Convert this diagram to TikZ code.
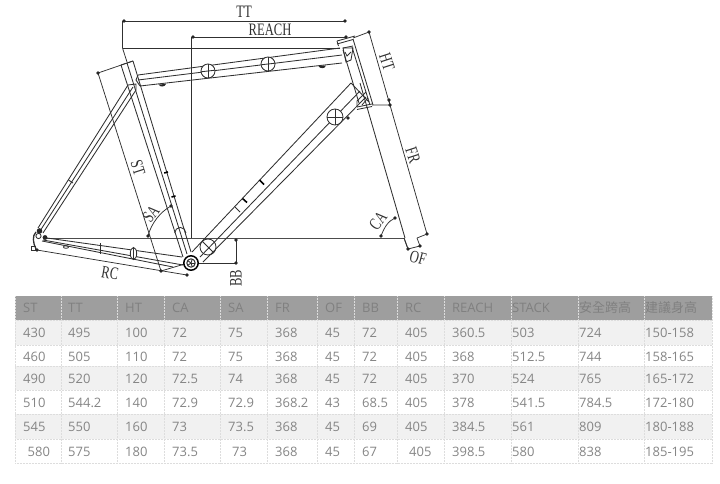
\documentclass[tikz,border=0pt]{standalone}
\usepackage{fontspec}
\setmainfont{Liberation Serif}
\newfontfamily\tablefont{Open Sans}
\newfontfamily\cjkfont{Noto Sans CJK TC}
\newfontfamily\dimfont[FakeStretch=0.72]{Liberation Serif}
\definecolor{ink}{HTML}{303030}
\definecolor{thead}{HTML}{9E9E9E}
\definecolor{theadtext}{HTML}{808080}
\definecolor{tcell}{HTML}{858585}
\definecolor{tband}{HTML}{F1F1F1}
\definecolor{tgrid}{HTML}{DDDDDD}
\tikzset{
  tube/.style={draw=ink,line width=.85pt},
  dimline/.style={draw=ink,line width=.75pt},
  dot/.style={circle,fill=black!85,inner sep=0pt,minimum size=3.8pt},
  lab/.style={font=\dimfont\fontsize{17.5}{17.5}\selectfont,text=ink,inner sep=0pt},
  hd/.style={anchor=base west,inner sep=0pt,font=\tablefont\fontsize{13}{13}\selectfont,text=theadtext},
  cl/.style={anchor=base west,inner sep=0pt,font=\tablefont\fontsize{13}{13}\selectfont,text=tcell},
  grid/.style={draw=tgrid,line width=.5pt,densely dotted},
  tick/.style={draw=black,line width=1.6pt}
}
\begin{document}
\begin{tikzpicture}[x=1pt,y=-1pt]
\useasboundingbox (0,0) rectangle (720,483);
% ---- dimension points
\coordinate (ttl) at (124,21);
\coordinate (ttr) at (345,21);
\coordinate (rl) at (193,37);
\coordinate (rr) at (346,37);
\coordinate (stt) at (98,73);
\coordinate (stb) at (161,271);
\coordinate (rcb) at (187,275);
\coordinate (rca) at (37,250);
\coordinate (htt) at (369,32);
\coordinate (htb) at (389,100);
\coordinate (frt) at (390,105);
\coordinate (frb) at (427,234);
\coordinate (ofa) at (408,249);
\coordinate (ofb) at (420,246);
\coordinate (bbt) at (236,240);
\coordinate (bbb) at (236,263);
\coordinate (saa) at (148,236);
\coordinate (sab) at (171,206);
\coordinate (caa) at (381,236);
\coordinate (cab) at (395,218);
\coordinate (bb) at (191,263);
% ---- dimension lines
\draw[dimline] (ttl) -- (ttr);
\draw[dimline] (ttl) ++(-1.5,0) -- ++(0,27) -- (127,62);
\draw[dimline] (122.5,48) -- (340,48);
\draw[dimline] (rl) -- (rr);
\draw[dimline] (rl) ++(-2,0) -- (191,238);
\draw[dimline,line width=.9pt,draw=black!70] (43,238) -- (404,238);
\draw[dimline] (stt) -- (133,61);
\draw[dimline] (stt) -- (stb);
\draw[dimline] (rca) -- (rcb);
\draw[dimline] (stb) -- (188,263);
\draw[dimline] (353,38) -- (htt);
\draw[dimline] (htt) -- (frb);
\draw[dimline] (372,105) -- (frt) -- (htb);
\draw[dimline] (frb) -- (417,238);
\draw[dimline] (ofa) -- (404,238);
\draw[dimline] (ofb) -- (417,238);
\draw[dimline] (ofa) -- (ofb);
\draw[dimline] (bbt) -- (bbb) -- (198,263);
\draw[dimline] (saa) .. controls (151,224) and (160,212) .. (sab);
\draw[dimline] (caa) .. controls (384,228) and (388,221) .. (cab);
\foreach \p in {ttl,ttr,rl,rr,stt,stb,rcb,rca,htt,htb,frt,frb,ofa,ofb,bbt,bbb,saa,sab,caa,cab}
  \node[dot] at (\p) {};
\node[dot] at (348,118) {};
% ---- seat tube
\draw[tube] (121,65) -- (133,61);
\draw[tube] (121,65) -- (183,257);
\draw[tube] (127,63) -- (187,254);
\draw[tube] (133,61) -- (191,252);
\draw[tick] (164.2,173) -- (168,172);
\draw[tick] (171.5,197) -- (175.5,196);
\draw[tube] (174.7,233) arc[start angle=180,end angle=360,radius=5.6];
% ---- seat stay
\draw[tube] (128,85) -- (38,228);
\draw[tube] (133,87) -- (40,231);
\draw[tube] (136,90) -- (43,233);
\draw[tube] (128,85) -- (136,84) -- (136,90);
\draw[tube] (68.5,180) -- (73,183);
% ---- top tube
\draw[tube] (138,75) -- (340,48);
\draw[tube] (138,80) -- (342,55);
\draw[tube] (140,86) -- (342,63);
\draw[tube] (138,75) -- (136,80) -- (140,86);
\foreach \c in {(208,71),(268,64)}{
  \draw[tube,fill=white] \c circle[radius=7];
  \draw[tube] \c ++(-7,.8) -- ++(14,-1.6);
  \draw[tube] \c ++(0,-7) -- ++(0,14);
}
\fill[black!85] (158.5,84.5) .. controls (160,87.5) and (165,87) .. (166,84) -- cycle;
\fill[black!85] (318.5,66) .. controls (320,69) and (325,69) .. (326,65.5) -- cycle;
% ---- head tube and fork
\draw[tube] (337,41) -- (355,36);
\draw[tube] (337,44) -- (353,39.5);
\draw[tube] (337,41) -- (338.5,46);
\draw[tube] (343,50) -- (359,103);
\draw[tube] (352,47) -- (370,105);
\draw[tube] (353,39) -- (373,105);
\draw[tube] (343,48) -- (353,48) -- (351,60) -- (346,62) -- cycle;
\draw[tube] (345,52) -- (347,56) -- (351,52);
\draw[tube] (343,48) -- (353,46);
\draw[tube] (360,83) -- (405,238);
\draw[tube] (404,238) -- (408,249);
\draw[tube] (357,107) -- (372,104);
\draw[tube] (357,109.5) -- (372,106.5);
% ---- down tube
\draw[tube] (351,83) -- (192,252);
\draw[tube] (360,91) -- (200,257);
\draw[tube] (366,97) -- (203,262);
\draw[tube] (351,83) -- (369,102);
\draw[tube] (357,107) -- (357,101) -- (366,92);
\draw[tube] (362,105) -- (368,98);
\draw[tube,fill=white] (335,117) circle[radius=8];
\draw[tube] (327,117) -- (343,117);
\draw[tube] (335,109) -- (335,125);
\draw[tube] (208,247) circle[radius=8];
\draw[tube] (202.3,241.3) -- (213.7,252.7);
% ---- ticks on the down tube
\draw[tick] (242.5,198.5) -- (247,202.5);
\draw[tick] (259.5,180) -- (264,184.5);
\draw[tube] (235,207) -- (240,212);
% ---- chain stay
\draw[tube] (47,238) -- (182,257);
\draw[tube] (43,240) -- (183,265);
\draw[tube] (42,241) -- (173,267);
\draw[tube] (100,243) -- (100,254);
\draw[tube,fill=white] (133.5,253.5) ellipse[x radius=3.2,y radius=6];
\draw[tube] (133.5,247.5) -- (133.5,259.5);
\draw[tube] (66,247) ellipse[x radius=2.6,y radius=1.3];
% ---- rear dropout
\fill[black!85] (39.5,231) circle[radius=2.8];
\fill[black!85] (45,237.5) circle[radius=2.4];
\draw[tube,line width=1.3pt] (36,232) .. controls (32,236) and (33,243) .. (36,249);
\draw[tube] (31,246) rectangle (35,250);
\draw[tube] (38.5,236) circle[radius=2.6];
% ---- bottom bracket
\draw[draw=black,line width=1.5pt,fill=white] (bb) circle[radius=7.2];
\draw[tube,line width=1pt] (bb) circle[radius=4.2];
\foreach \a in {0,72,...,288} \draw[tube] (bb) -- ++(\a:4.2);
% ---- labels
\node[lab] (ltt) at (244,11.5) {TT};
\node[lab] (lreach) at (270,30) {REACH};
\node[lab,rotate=-72] (lht) at (387,62) {HT};
\node[lab,rotate=-72] (lfr) at (413,155) {FR};
\node[lab,rotate=-72] (lst) at (138,168) {ST};
\node[lab,rotate=52] (lsa) at (151,214) {SA};
\node[lab,rotate=52] (lca) at (378,221) {CA};
\node[lab,rotate=-10] (lrc) at (110,273) {RC};
\node[lab,rotate=90] (lbb) at (236,278) {BB};
\node[lab,rotate=-15] (lof) at (418,258) {OF};
% ---- table
\fill[thead] (15,296) rectangle (712,320);
\fill[tband] (15,320) rectangle (712,345);
\fill[tband] (15,366) rectangle (712,390);
\fill[tband] (15,414) rectangle (712,439);
\foreach \y in {320,345,366,390,414,439,463} \draw[grid] (15,\y) -- (712,\y);
\foreach \x in {15,61,117,164,220,267,317,354,397,444,511,578,644,712} \draw[grid] (\x,296) -- (\x,463);
\foreach \tx/\t [count=\i] in {23/ST,68/TT,125/HT,172/CA,228/SA,275/FR,325/OF,362/BB,405/RC,452/REACH,512/STACK}
  \node[hd] (h\i) at (\tx,312) {\t};
\node[hd,font=\cjkfont\fontsize{13}{13}\selectfont] (h12) at (579,312) {安全跨高};
\node[hd,font=\cjkfont\fontsize{13}{13}\selectfont] (h13) at (645,312) {建議身高};
\foreach \tx/\t [count=\i] in {23/430,68/495,125/100,172/72,228/75,275/368,325/45,362/72,405/405,452/360.5,512/503,579/724,645/150-158}
  \node[cl] (a\i) at (\tx,337) {\t};
\foreach \tx/\t [count=\i] in {23/460,68/505,125/110,172/72,228/75,275/368,325/45,362/72,405/405,452/368,512/512.5,579/744,645/158-165}
  \node[cl] (b\i) at (\tx,361) {\t};
\foreach \tx/\t [count=\i] in {23/490,68/520,125/120,172/72.5,228/74,275/368,325/45,362/72,405/405,452/370,512/524,579/765,645/165-172}
  \node[cl] (c\i) at (\tx,383) {\t};
\foreach \tx/\t [count=\i] in {23/510,68/544.2,125/140,172/72.9,228/72.9,275/368.2,325/43,362/68.5,405/405,452/378,512/541.5,579/784.5,645/172-180}
  \node[cl] (d\i) at (\tx,407) {\t};
\foreach \tx/\t [count=\i] in {23/545,68/550,125/160,172/73,228/73.5,275/368,325/45,362/69,405/405,452/384.5,512/561,579/809,645/180-188}
  \node[cl] (e\i) at (\tx,431) {\t};
\foreach \tx/\t [count=\i] in {27.5/580,68/575,125/180,172/73.5,232/73,275/368,325/45,362/67,409/405,452/398.5,512/580,579/838,645/185-195}
  \node[cl] (f\i) at (\tx,456) {\t};
\end{tikzpicture}
\end{document}
